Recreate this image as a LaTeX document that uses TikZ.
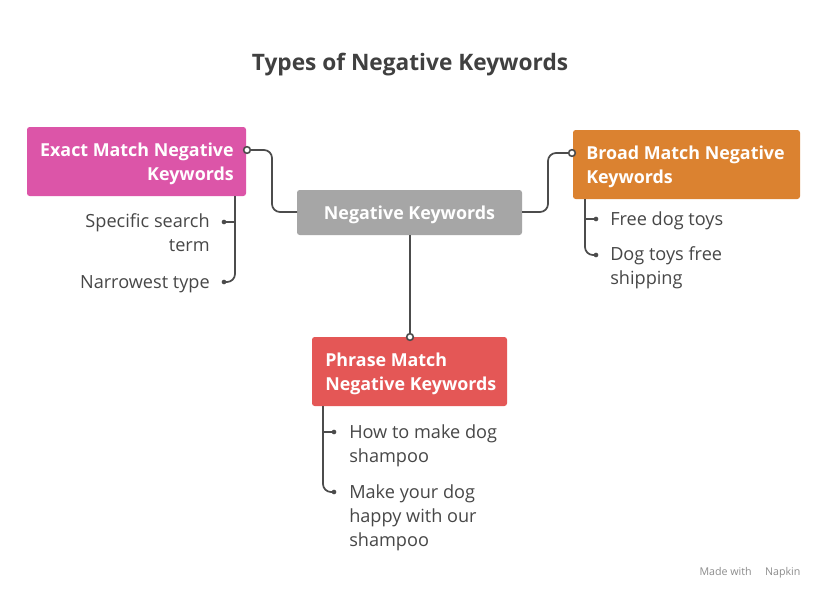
\documentclass[tikz,border=0pt]{standalone}
\usepackage{fontspec}
\setmainfont{Open Sans}
\begin{document}
\begin{tikzpicture}[x=0.75pt,y=-0.75pt,
 box/.style={rounded corners=2pt,inner sep=0,text=white,font=\fontsize{13.4}{18}\selectfont\bfseries},
 lbl/.style={inner sep=0,text=black!72,font=\fontsize{13.6}{18}\selectfont},
 ln/.style={draw=black!70,line width=1.3pt,rounded corners=6pt},
 dot/.style={circle,draw=black!70,fill=white,line width=1.2pt,inner sep=0,minimum size=5pt},
 sdot/.style={circle,fill=black!70,inner sep=0,minimum size=3.5pt}]
\useasboundingbox (0,0) rectangle (829,600);
\fill[white] (0,0) rectangle (829,600);
\node[font=\fontsize{17}{20}\selectfont\bfseries,text=black!75] (title) at (410,65) {Types of Negative Keywords};
% boxes
\fill[color={rgb,255:red,166;green,166;blue,166},rounded corners=2pt] (297,190) rectangle (522,235);
\node[box] (neg) at (409.5,214.5) {Negative Keywords};
\fill[color={rgb,255:red,220;green,85;blue,168},rounded corners=2pt] (27,127) rectangle (246,196);
\node[box,align=right,anchor=east] (exact) at (234,163.5) {Exact Match Negative\\Keywords};
\fill[color={rgb,255:red,219;green,130;blue,48},rounded corners=2pt] (573,130) rectangle (800,199);
\node[box,align=left,anchor=west] (broad) at (586,166.5) {Broad Match Negative\\Keywords};
\fill[color={rgb,255:red,228;green,87;blue,86},rounded corners=2pt] (312,337) rectangle (507,406);
\node[box,align=left,anchor=west] (phrase) at (325,373.5) {Phrase Match\\Negative Keywords};
% connectors
\coordinate (nl) at (297,212); \coordinate (el) at (247,150);
\coordinate (nr) at (522,212); \coordinate (br) at (572,153);
\coordinate (nb) at (410,235); \coordinate (pt) at (410,337);
\draw[ln] (nl) -- (272,212) -- (272,150) -- (el);
\node[dot] at (el) {};
\draw[ln] (nr) -- (548,212) -- (548,153) -- (br);
\node[dot] at (br) {};
\draw[ln] (nb) -- (pt);
\node[dot] at (pt) {};
% exact children
\draw[ln] (235,196) -- (235,282) -- (224,282);
\draw[ln] (235,222) -- (224,222);
\node[sdot] at (224,222) {}; \node[sdot] at (224,282) {};
\node[lbl,align=right,anchor=north east] (e1) at (210,213) {Specific search\\term};
\node[lbl,anchor=east] (e2) at (210,284) {Narrowest type};
% broad children
\draw[ln] (585,199) -- (585,255) -- (596,255);
\draw[ln] (585,219) -- (596,219);
\node[sdot] at (596,219) {}; \node[sdot] at (596,255) {};
\node[lbl,anchor=west] (b1) at (610,221) {Free dog toys};
\node[lbl,align=left,anchor=north west] (b2) at (610,246) {Dog toys free\\shipping};
% phrase children
\draw[ln] (323,406) -- (323,492) -- (334,492);
\draw[ln] (323,432) -- (334,432);
\node[sdot] at (334,432) {}; \node[sdot] at (334,492) {};
\node[lbl,align=left,anchor=north west] (p1) at (349,424) {How to make dog\\shampoo};
\node[lbl,align=left,anchor=north west] (p2) at (349,484) {Make your dog\\happy with our\\shampoo};
\node[inner sep=0,text=black!45,font=\fontsize{8}{10}\selectfont] (made) at (750,573) {Made with \quad Napkin};
\end{tikzpicture}
\end{document}
